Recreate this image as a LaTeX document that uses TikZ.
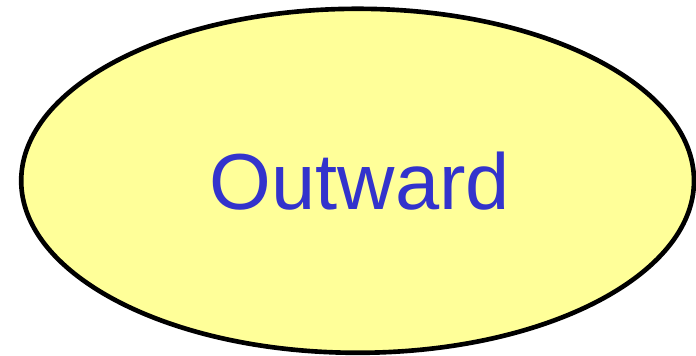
\documentclass[tikz,border=0pt]{standalone}
\usepackage{fontspec}
\setmainfont{Liberation Sans}
\usetikzlibrary{shapes.geometric}
\definecolor{pale}{HTML}{FFFF99}
\definecolor{ink}{HTML}{3333CC}

\begin{document}
\begin{tikzpicture}[
    oval/.style={ellipse, draw=black, fill=pale, line width=3.3pt,
                 minimum width=16.82cm, minimum height=8.6cm, inner sep=0pt},
    font=\fontsize{56.5}{64}\selectfont
]
    \useasboundingbox (0,0) rectangle (17.4,8.9);
    % the oval with its label
    \node[oval, text=ink] (outward) at (8.94,4.38) {\hspace{0.12cm}Outward};
\end{tikzpicture}
\end{document}
